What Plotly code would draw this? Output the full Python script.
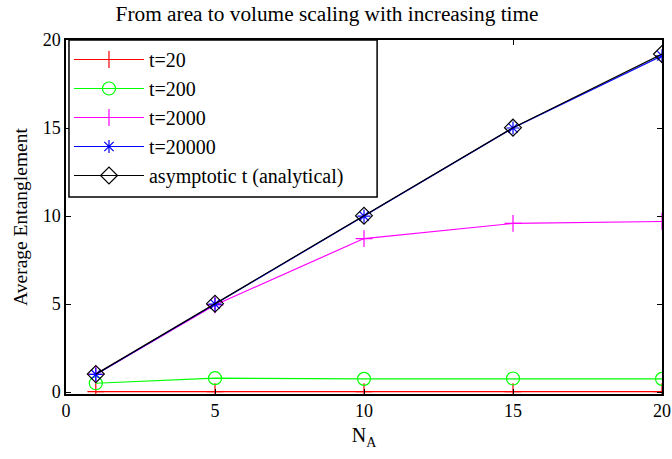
import plotly.graph_objects as go

N_A = [1, 5, 10, 15, 20]
t20 = [0.02, 0.02, 0.02, 0.02, 0.02]
t200 = [0.5, 0.79, 0.75, 0.77, 0.75]
t2000 = [1.0, 4.95, 8.72, 9.58, 9.69]
t20000 = [1.0, 5.0, 10.0, 15.0, 19.1]
asym = [1.02, 5.02, 10.02, 15.02, 19.2]

names = ["t=20", "t=200", "t=2000", "t=20000", "asymptotic t (analytical)"]
series = [t20, t200, t2000, t20000, asym]
colors = ["#ff0000", "#00ff00", "#ff00ff", "#0000ff", "#000000"]
symbols = ["cross-thin", "circle-open", "cross-thin", "asterisk-open", "diamond-open"]
sizes = [12, 13, 12, 11, 13]

FONT = "Times New Roman, Liberation Serif, serif"
fig = go.Figure()
for nm, ys, c, s, sz in zip(names, series, colors, symbols, sizes):
    fig.add_trace(go.Scatter(
        x=N_A, y=ys, name=nm, mode="lines+markers",
        line=dict(color=c, width=1.2),
        marker=dict(symbol=s, size=sz, color=c, line=dict(color=c, width=1.2)),
    ))

axis_common = dict(
    showgrid=False, zeroline=False, showline=True, linecolor="black", linewidth=1.5,
    mirror="allticks", ticks="inside", ticklen=5, tickcolor="black", tickwidth=1,
    tickfont=dict(family=FONT, size=18, color="black"), automargin=False,
)
fig.update_xaxes(range=[0, 20], tickvals=[0, 5, 10, 15, 20], **axis_common,
                 title=dict(text="N<sub>A</sub>", font=dict(family=FONT, size=20, color="black"), standoff=8))
fig.update_yaxes(range=[-0.11, 20], tickvals=[0, 5, 10, 15, 20], **axis_common,
                 title=dict(text="Average Entanglement", font=dict(family=FONT, size=19.5, color="black"), standoff=10))

# legend frame (MATLAB-style box, wider than plotly's auto box)
fig.add_shape(type="rect", xref="paper", yref="paper", x0=0.005, x1=0.522, y0=0.5565, y1=1.0,
              line=dict(color="black", width=1.5), fillcolor="white", layer="above")

fig.update_layout(
    width=672, height=459,
    margin=dict(l=66, r=10, t=40, b=65),
    paper_bgcolor="white", plot_bgcolor="white",
    font=dict(family=FONT, color="black"),
    title=dict(text="From area to volume scaling with increasing time", x=0.438, xref="paper",
               xanchor="center", y=0.97, yanchor="middle",
               font=dict(family=FONT, size=21.3, color="black"), automargin=False),
    legend=dict(x=0.005, y=1.0, xanchor="left", yanchor="top", bgcolor="rgba(0,0,0,0)",
                borderwidth=0, traceorder="normal",
                font=dict(family=FONT, size=20, color="black"), itemwidth=70),
    showlegend=True,
)
fig.write_html("out.html")
